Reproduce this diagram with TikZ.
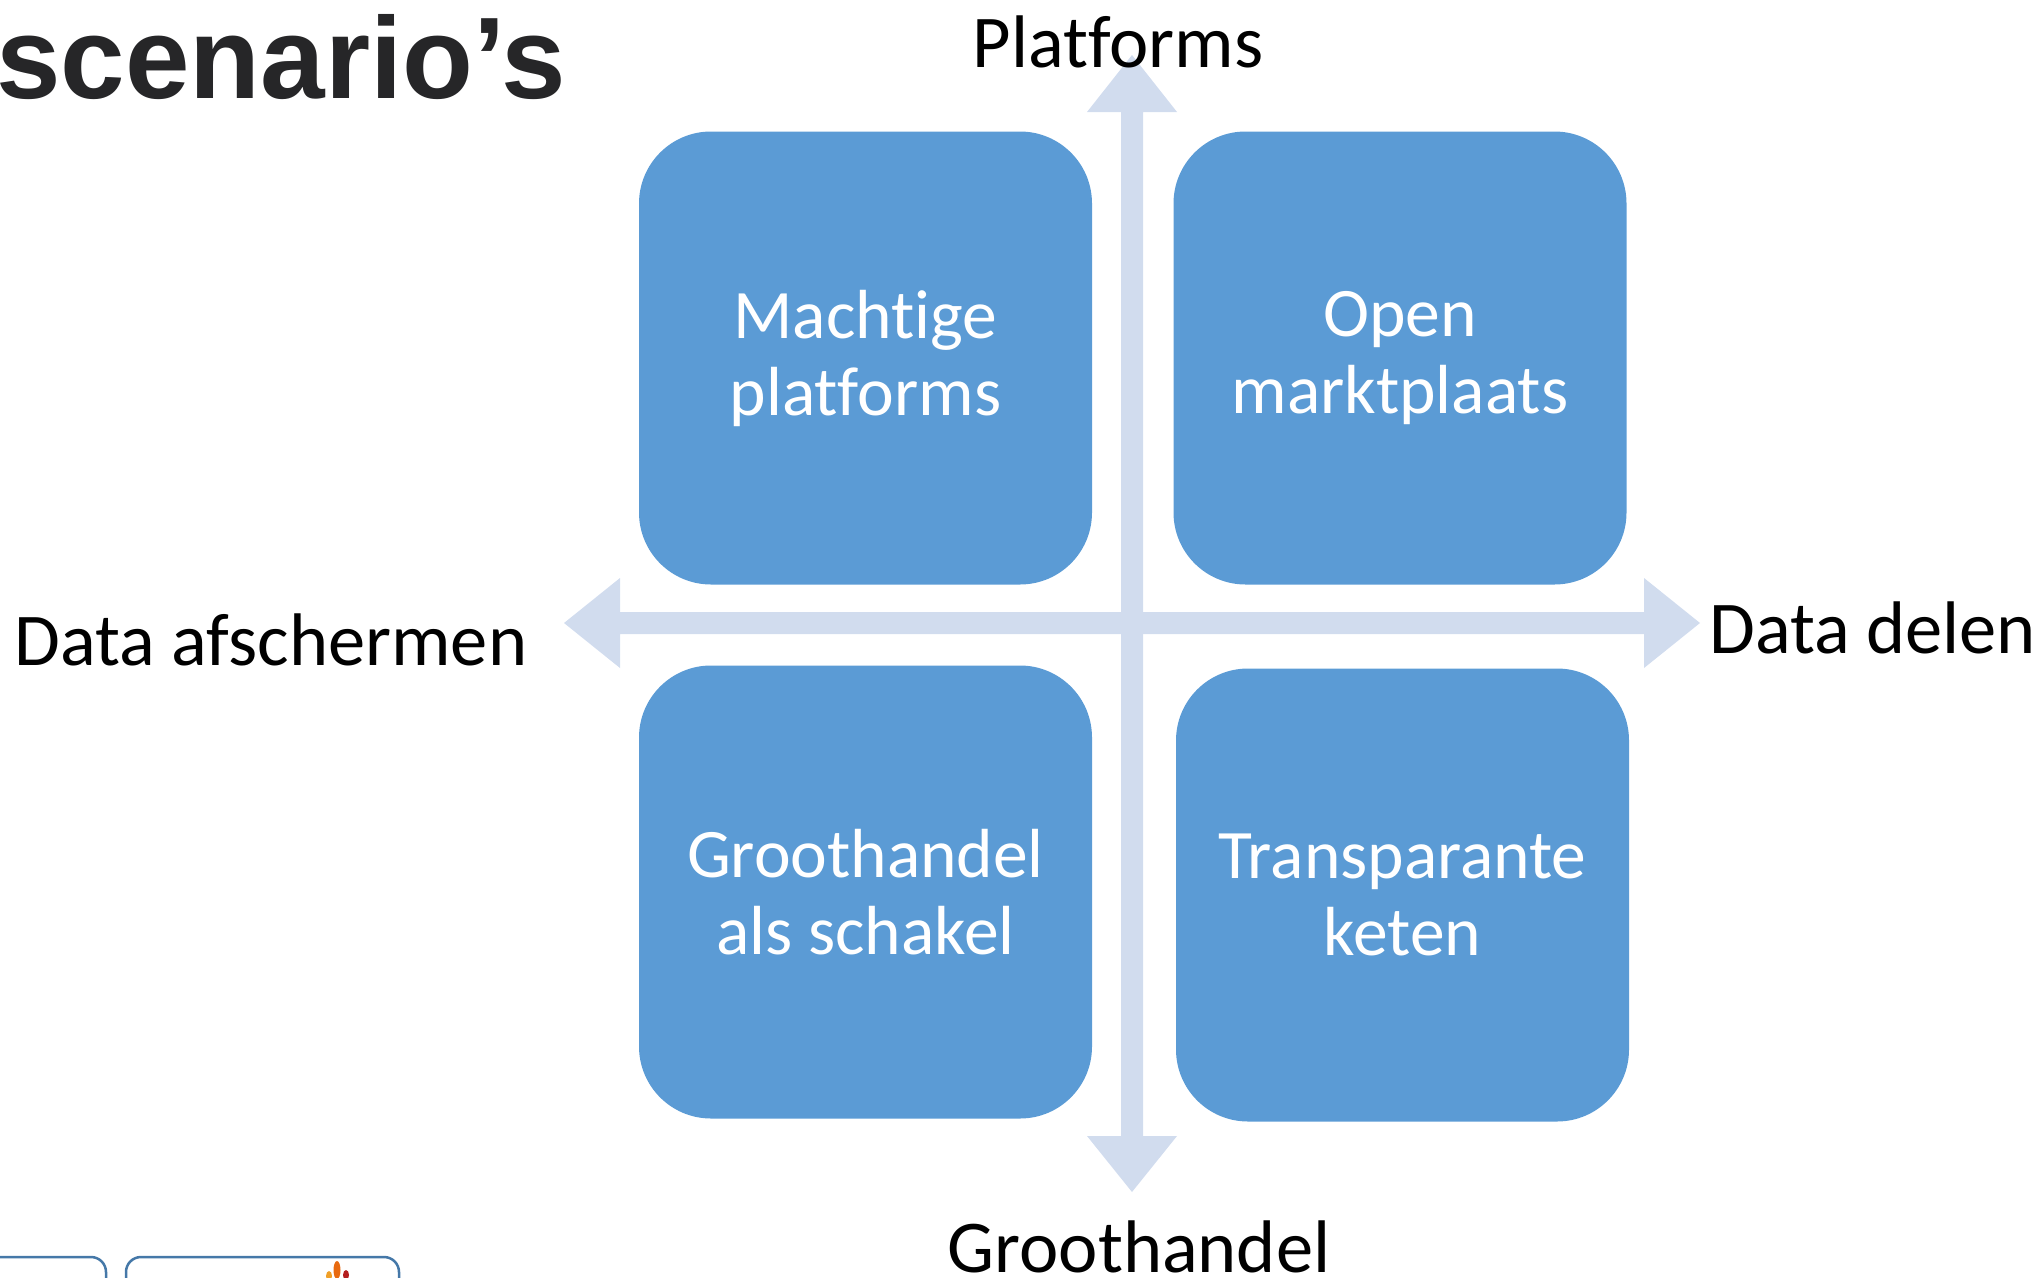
\documentclass[tikz,border=0pt]{standalone}
\usepackage{fontspec}
\setmainfont{Carlito}[Ligatures=NoCommon]
\newfontfamily\titlefont{Liberation Sans}
\definecolor{boxblue}{RGB}{91,155,213}
\definecolor{axisblue}{RGB}{209,220,238}
\definecolor{titlegray}{RGB}{38,38,40}
\definecolor{framblue}{RGB}{69,120,168}
\definecolor{logoorange}{RGB}{232,106,16}
\definecolor{logoyellow}{RGB}{240,160,40}
\definecolor{logored}{RGB}{180,30,30}
\begin{document}
\begin{tikzpicture}[x=1pt,y=-1pt,
  quad/.style={draw=none,fill=boxblue,rounded corners=72pt,minimum width=453pt,minimum height=453pt,
    text=white,align=center,inner sep=0pt,font=\fontsize{69.5}{77}\selectfont},
  axislabel/.style={inner sep=0pt,text=black,font=\fontsize{74.5}{82}\selectfont},
  axisfill/.style={fill=axisblue,draw=none},
  frame/.style={draw=framblue,line width=2.5pt,rounded corners=15pt}]
\useasboundingbox (0,0) rectangle (2042,1277);
\clip (0,0) rectangle (2042,1277);
% axes (two double-headed block arrows)
\fill[axisfill] (1121,112) -- (1087,112) -- (1132,55) -- (1177,112) -- (1143,112)
  -- (1143,1136) -- (1177,1136) -- (1132,1192) -- (1087,1136) -- (1121,1136) -- cycle;
\fill[axisfill] (620,612) -- (620,578) -- (564,623) -- (620,668) -- (620,634)
  -- (1644,634) -- (1644,668) -- (1700,623) -- (1644,578) -- (1644,612) -- cycle;
% quadrants
\node[quad] (tl) at (865.5,358) {Machtige\\platforms};
\node[quad] (tr) at (1400,358) {Open\\marktplaats};
\node[quad] (bl) at (865.5,892) {Groothandel\\als schakel};
\node[quad] (br) at (1402.5,895) {Transparante\\keten};
% axis labels
\node[axislabel,anchor=base] (top) at (1118,67) {Platforms};
\node[axislabel,anchor=base] (bottom) at (1139,1272) {Groothandel};
\node[axislabel,anchor=base west] (left) at (14,665) {Data afschermen};
\node[axislabel,anchor=base west] (right) at (1709,653) {Data delen};
% title (cut at the left edge)
\node[inner sep=0pt,anchor=base east,text=titlegray,font=\titlefont\bfseries\fontsize{116}{126}\selectfont] (title) at (566,98) {scenario’s};
% partial frames at the bottom left
\draw[frame] (-60,1257) rectangle (106,1400);
\draw[frame] (126,1257) rectangle (399,1400);
\fill[logoorange] (337,1270) ellipse (3.5pt and 9pt);
\fill[logoyellow] (329,1276) ellipse (3pt and 5pt);
\fill[logored] (346,1275) ellipse (3pt and 5pt);
\end{tikzpicture}
\end{document}
